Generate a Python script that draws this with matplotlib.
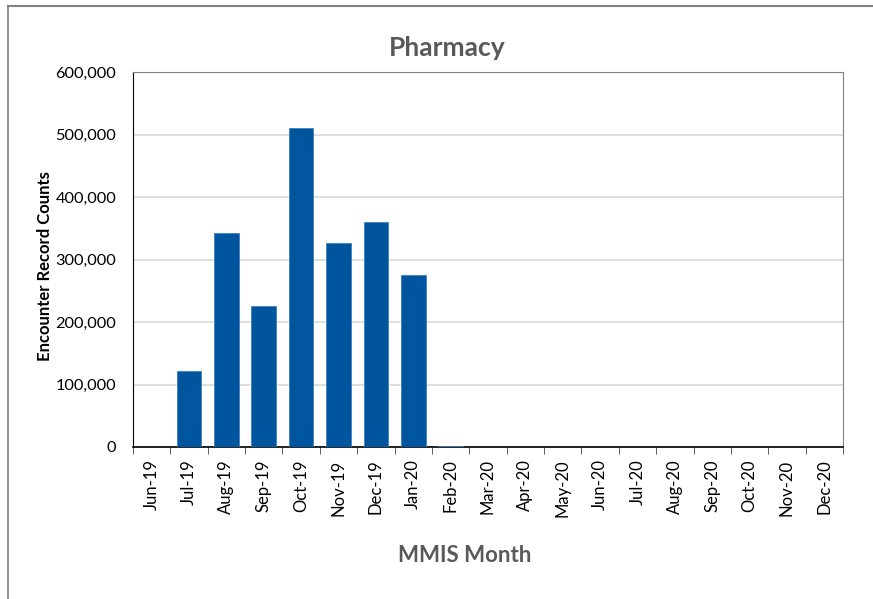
import matplotlib.pyplot as plt
from matplotlib.ticker import FuncFormatter
from matplotlib.lines import Line2D
import numpy as np

months = ['Jun-19', 'Jul-19', 'Aug-19', 'Sep-19', 'Oct-19', 'Nov-19', 'Dec-19',
          'Jan-20', 'Feb-20', 'Mar-20', 'Apr-20', 'May-20', 'Jun-20', 'Jul-20',
          'Aug-20', 'Sep-20', 'Oct-20', 'Nov-20', 'Dec-20']
counts = [0, 122000, 342000, 226000, 510000, 326000, 359500,
          276000, 1500, 0, 0, 0, 0, 0, 0, 0, 0, 0, 0]

plt.rcParams['font.family'] = ['Lato', 'DejaVu Sans']

fig = plt.figure(figsize=(8.73, 5.99), dpi=100)
ax = fig.add_axes([133 / 873, 1 - 447 / 599, 710 / 873, 375 / 599])

x = np.arange(len(months))
ax.bar(x, counts, width=0.66, color='#00559F', edgecolor='#3F7FBF', linewidth=0.6, zorder=3)

ax.set_xlim(-0.5, len(months) - 0.5)
ax.set_ylim(0, 600000)
ax.set_yticks(np.arange(0, 600001, 100000))
ax.yaxis.set_major_formatter(FuncFormatter(lambda v, p: f'{int(v):,}'))
ax.tick_params(axis='y', length=0, labelsize=11.8, pad=12)
ax.grid(axis='y', color='#D9D9D9', linewidth=1.2, zorder=0)

ax.set_xticks(x)
ax.set_xticklabels(months, rotation=90, fontsize=12)
ax.set_xticks(np.arange(-0.5, len(months), 1), minor=True)
ax.tick_params(axis='x', which='major', length=0, pad=9)
ax.tick_params(axis='x', which='minor', length=5, color='#404040')

for s in ['top', 'right']:
    ax.spines[s].set_color('#808080')
    ax.spines[s].set_linewidth(0.8)
ax.spines['left'].set_color('#000000')
ax.spines['bottom'].set_color('#000000')
ax.spines['bottom'].set_linewidth(1.2)

fig.text(447 / 873, 1 - 48 / 599, 'Pharmacy', fontsize=19, fontweight='bold',
         color='#595959', ha='center', va='center')
fig.text(465 / 873, 1 - 555 / 599, 'MMIS Month', fontsize=16, fontweight='bold',
         color='#595959', ha='center', va='center')
fig.text(45 / 873, 1 - 266 / 599, 'Encounter Record Counts', fontsize=12, fontweight='bold',
         color='#000000', ha='center', va='center', rotation=90)

# outer chart border (top and left visible)
fig.add_artist(Line2D([8 / 873, 1], [1 - 6 / 599, 1 - 6 / 599], color='#808080', linewidth=1.5))
fig.add_artist(Line2D([8 / 873, 8 / 873], [0, 1 - 6 / 599], color='#808080', linewidth=1.2))

fig.savefig('out.png', dpi=100)
